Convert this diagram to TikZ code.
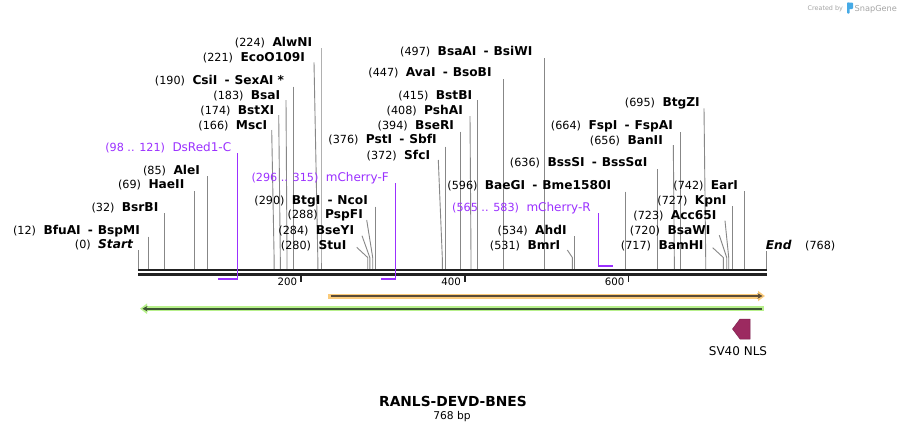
\documentclass[tikz,border=0pt]{standalone}
\usepackage{fontspec}
\setmainfont{DejaVu Sans}[ItalicFont={DejaVu Sans Oblique},BoldFont={DejaVu Sans Bold},BoldItalicFont={DejaVu Sans Bold Oblique}]
\usetikzlibrary{arrows.meta}
\definecolor{primcol}{RGB}{155,48,255}
\definecolor{cutgray}{RGB}{135,135,135}
\definecolor{mapblack}{RGB}{34,34,34}
\definecolor{orband}{RGB}{250,202,122}
\definecolor{orinner}{RGB}{90,75,55}
\definecolor{grband}{RGB}{184,240,140}
\definecolor{grinner}{RGB}{60,85,50}
\definecolor{nlscol}{RGB}{156,42,96}
\definecolor{logoblue}{RGB}{70,170,230}
\definecolor{logogray}{RGB}{165,165,165}
\tikzset{
  num/.style={font=\fontsize{11.2}{13}\selectfont, inner sep=0pt, text=black},
  enz/.style={font=\fontsize{12.2}{14}\selectfont\bfseries, inner sep=0pt, text=black},
  prim/.style={font=\fontsize{12}{14}\selectfont, inner sep=0pt, text=primcol},
  primnum/.style={font=\fontsize{11.2}{13}\selectfont, inner sep=0pt, text=primcol},
  cutline/.style={draw=cutgray, line width=0.9pt},
  primline/.style={draw=primcol, line width=1pt},
  primbar/.style={draw=primcol, line width=2pt},
  ticklab/.style={font=\fontsize{10.2}{12}\selectfont, inner sep=0pt},
}
\newcommand\sepr{\hspace{7.2pt}-\hspace{4.9pt}}
% id, x of name ink start, baseline y, number, name
\newcommand\enzl[5]{%
  \node[enz,anchor=base west] (#1) at (#2-1,#3) {#5};
  \node[num,anchor=base east] (#1n) at ([xshift=-7pt]#1.base west) {#4};}
\newcommand\priml[5]{%
  \node[prim,anchor=base west] (#1) at (#2-1,#3) {#5};
  \node[primnum,anchor=base east] (#1n) at ([xshift=-7pt]#1.base west) {#4};}
% id, top x, top y, site x
\newcommand\cutl[4]{%
  \draw[cutline] (#2,#3) coordinate (#1t) -- (#4,257.5) -- (#4,269) coordinate (#1s);}
\begin{document}
\begin{tikzpicture}[x=1pt,y=-1pt]
\useasboundingbox (0,0) rectangle (905,432);
\fill[white] (0,0) rectangle (905,432);

% ---- logo
\node[inner sep=0pt,anchor=base west,text=logogray,font=\fontsize{6.4}{8}\selectfont] (logoa) at (807.5,10) {Created by};
\fill[logoblue,rounded corners=0.8pt] (847,2.5) rectangle (853,9);
\fill[logoblue,rounded corners=0.8pt] (847,2.5) rectangle (849.6,13.5);
\node[inner sep=0pt,anchor=base west,text=logogray,font=\fontsize{8.2}{10}\selectfont] (logob) at (854.5,11) {SnapGene};

% ---- enzyme lines
\cutl{c0}{138.3}{250}{138.3}
\cutl{c12}{148.3}{236.7}{148.3}
\cutl{c32}{164.3}{213.3}{164.3}
\cutl{c69}{194.3}{191}{194.3}
\cutl{c85}{207.7}{176}{207.7}
\cutl{c166}{271.7}{130}{274.1}
\cutl{c174}{278.7}{115}{280.3}
\cutl{c183}{286}{100}{287}
\cutl{c190}{293.3}{86.7}{293.3}
\cutl{c221}{314}{62.3}{317.8}
\cutl{c224}{321}{48.3}{321}
\cutl{c280}{356.7}{247.3}{367.7}
\cutl{c284}{362}{235.7}{369.8}
\cutl{c288}{366.7}{220}{372.7}
\cutl{c290}{375.3}{206.7}{375.3}
\cutl{c372}{438.3}{160}{442.3}
\cutl{c376}{445.7}{146.7}{445.7}
\cutl{c394}{460.7}{131.7}{460.7}
\cutl{c408}{470}{116}{471}
\cutl{c415}{477.3}{100}{477.3}
\cutl{c447}{503.3}{79.3}{503.3}
\cutl{c497}{544.3}{58.3}{544.3}
\cutl{c531}{567.3}{250}{572.3}
\cutl{c534}{574.3}{236}{574.3}
\cutl{c596}{625.7}{191.7}{625.7}
\cutl{c636}{657.7}{169.3}{657.7}
\cutl{c656}{673.3}{145}{674.3}
\cutl{c664}{680.7}{132.3}{680.7}
\cutl{c695}{704}{108.3}{705.7}
\cutl{c717}{712.7}{247.7}{723.3}
\cutl{c720}{719.3}{235.3}{726.7}
\cutl{c723}{725}{220.7}{728.7}
\cutl{c727}{732.3}{206}{732.3}
\cutl{c742}{744.3}{191}{744.3}
\cutl{c768}{766.7}{251}{766.7}

% ---- map backbone
\coordinate (mapL1) at (138.3,270);
\coordinate (mapR1) at (766.7,270);
\coordinate (mapL2) at (138.3,274.5);
\coordinate (mapR2) at (766.7,274.5);
\draw[mapblack,line width=2pt] (mapL1) -- (mapR1);
\draw[mapblack,line width=2.4pt] (mapL2) -- (mapR2);

% ---- ticks
\draw[mapblack,line width=1.6pt] (301,275.5) coordinate (t200) -- (301,282);
\draw[mapblack,line width=1.6pt] (464.7,275.5) coordinate (t400) -- (464.7,282);
\draw[mapblack,line width=1.6pt] (628.3,275.5) coordinate (t600) -- (628.3,282);
\node[ticklab,anchor=base east] (l200) at (297.3,285.7) {200};
\node[ticklab,anchor=base east] (l400) at (461,285.7) {400};
\node[ticklab,anchor=base east] (l600) at (624.6,285.7) {600};

% ---- primers
\draw[primline] (237.3,153.3) coordinate (p1t) -- (237.3,278.7);
\draw[primbar] (237.8,278.7) -- (218.3,278.7) coordinate (p1e);
\draw[primline] (395.3,183.3) coordinate (p2t) -- (395.3,278.7);
\draw[primbar] (395.8,278.7) -- (380.5,278.7) coordinate (p2e);
\draw[primline] (598.3,213.3) coordinate (p3t) -- (598.3,265.7);
\draw[primbar] (597.8,265.7) -- (612.7,265.7) coordinate (p3e);

% ---- features
\draw[orband,line width=5pt,-{Triangle[length=7pt,width=10pt]}] (328.3,296) coordinate (fa1) -- (765,296) coordinate (fa2);
\draw[orinner,line width=1.8pt,-{Stealth[length=5pt,width=5.5pt]}] (330.5,296) -- (762.5,296);
\draw[grband,line width=5pt,{Triangle[length=7pt,width=10pt]}-] (140,308.7) coordinate (fb1) -- (764,308.7) coordinate (fb2);
\draw[grinner,line width=1.8pt,{Stealth[length=5pt,width=5.5pt]}-] (142.5,308.7) -- (762,308.7);
\draw[fill=nlscol,draw=nlscol!80!black,line width=0.5pt] (750,319) -- (740,319) -- (732.5,329) -- (740,339) -- (750,339) -- cycle;
\node[inner sep=0pt,anchor=base,font=\fontsize{12}{14}\selectfont] (nls) at (738,355.5) {SV40 NLS};

% ---- labels, left group
\node[enz,anchor=base west,font=\fontsize{12.2}{14}\selectfont\bfseries\itshape] (e0) at (98,248.7) {Start};
\node[num,anchor=base east] (e0n) at ([xshift=-7pt]e0.base west) {(0)};
\enzl{e12}{44.3}{234.3}{(12)}{BfuAI\sepr BspMI}
\enzl{e32}{122.7}{211}{(32)}{BsrBI}
\enzl{e69}{149.3}{188.7}{(69)}{HaeII}
\enzl{e85}{174.3}{174.3}{(85)}{AleI}
\priml{p1}{173.3}{151.3}{(98 .. 121)}{DsRed1-C}
\enzl{e166}{236.7}{129.3}{(166)}{MscI}
\enzl{e174}{238.7}{114}{(174)}{BstXI}
\enzl{e183}{251.7}{99}{(183)}{BsaI}
\enzl{e190}{193.3}{84.3}{(190)}{CsiI\sepr SexAI *}
\enzl{e221}{241.3}{61}{(221)}{EcoO109I}
\enzl{e224}{273.3}{46}{(224)}{AlwNI}

% ---- labels, middle group
\enzl{e280}{319.3}{249}{(280)}{StuI}
\enzl{e284}{316.7}{234.3}{(284)}{BseYI}
\enzl{e288}{326}{218.3}{(288)}{PspFI}
\enzl{e290}{292.7}{204}{(290)}{BtgI\sepr NcoI}
\priml{p2}{326.7}{181}{(296 .. 315)}{mCherry-F}
\enzl{e372}{405}{159}{(372)}{SfcI}
\enzl{e376}{366.7}{143.3}{(376)}{PstI\sepr SbfI}
\enzl{e394}{416}{129.3}{(394)}{BseRI}
\enzl{e408}{425}{114.3}{(408)}{PshAI}
\enzl{e415}{436.7}{99.3}{(415)}{BstBI}
\enzl{e447}{406.7}{76.7}{(447)}{AvaI\sepr BsoBI}
\enzl{e497}{438.5}{55}{(497)}{BsaAI\sepr BsiWI}

% ---- labels, right group
\enzl{e531}{528.3}{249}{(531)}{BmrI}
\enzl{e534}{536}{234.3}{(534)}{AhdI}
\priml{p3}{527.3}{211.7}{(565 .. 583)}{mCherry-R}
\enzl{e596}{485.7}{189}{(596)}{BaeGI\sepr Bme1580I}
\enzl{e636}{548.3}{166}{(636)}{BssSI\sepr BssSαI}
\enzl{e656}{628.3}{144.3}{(656)}{BanII}
\enzl{e664}{589.3}{129}{(664)}{FspI\sepr FspAI}
\enzl{e695}{663.3}{106}{(695)}{BtgZI}
\enzl{e717}{659.3}{249}{(717)}{BamHI}
\enzl{e720}{668.3}{234}{(720)}{BsaWI}
\enzl{e723}{671.7}{219.3}{(723)}{Acc65I}
\enzl{e727}{695.7}{204}{(727)}{KpnI}
\enzl{e742}{711.7}{189}{(742)}{EarI}
\node[enz,anchor=base west,font=\fontsize{12.2}{14}\selectfont\bfseries\itshape] (e768) at (765.7,249) {End};
\node[num,anchor=base west] (e768n) at (805,249) {(768)};

% ---- title
\node[inner sep=0pt,anchor=base,font=\fontsize{13.8}{16}\selectfont\bfseries] (title) at (453,406) {RANLS-DEVD-BNES};
\node[inner sep=0pt,anchor=base,font=\fontsize{10.7}{13}\selectfont] (len) at (452,419) {768 bp};
\end{tikzpicture}
\end{document}
